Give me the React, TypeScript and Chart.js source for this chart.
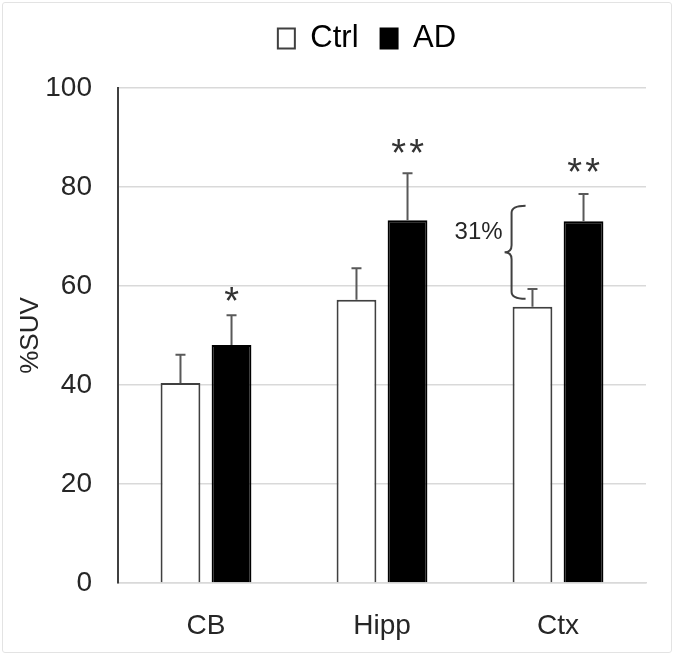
import React, { useEffect, useRef } from "react";
import { Chart, registerables } from "chart.js";

Chart.register(...registerables);

const categories = ["CB", "Hipp", "Ctx"];
const seriesNames = ["Ctrl", "AD"];
const ctrlValues = [40.4, 57.2, 55.8];
const adValues = [48.1, 73.3, 73.1];
const ctrlErrors = [5.7, 6.4, 3.6];
const adErrors = [6.0, 9.5, 5.5];
const starLabels = ["*", "**", "**"];
const starValues = [58.4, 88.2, 84.4];
const braceCategory = 2;
const braceRange = [57.4, 76.2];
const braceLabel = "31%";
const yTicks = [0, 20, 40, 60, 80, 100];

const FONT = "'Liberation Sans', Arial, sans-serif";
const LEGEND_SHIFT = 40;

const annotationPlugin = {
  id: "annotations",
  beforeInit(chart: any) {
    const legend = chart.legend;
    if (legend) {
      const origFit = legend.fit;
      legend.fit = function () {
        origFit.call(legend);
        legend.height += 24;
      };
    }
  },
  afterLayout(chart: any) {
    const legend = chart.legend;
    if (legend) {
      legend.left += LEGEND_SHIFT;
      legend.right += LEGEND_SHIFT;
    }
  },
  afterDatasetsDraw(chart: any) {
    const ctx = chart.ctx;
    const y = chart.scales.y;
    const errs = [ctrlErrors, adErrors];
    const vals = [ctrlValues, adValues];
    ctx.save();
    // error bars
    ctx.strokeStyle = "#595959";
    ctx.lineWidth = 2;
    [0, 1].forEach((di) => {
      const meta = chart.getDatasetMeta(di);
      meta.data.forEach((bar: any, i: number) => {
        const top = y.getPixelForValue(vals[di][i]);
        const et = y.getPixelForValue(vals[di][i] + errs[di][i]);
        ctx.beginPath();
        ctx.moveTo(bar.x, top);
        ctx.lineTo(bar.x, et);
        ctx.moveTo(bar.x - 5, et);
        ctx.lineTo(bar.x + 5, et);
        ctx.stroke();
      });
    });
    // stars
    const adMeta = chart.getDatasetMeta(1);
    ctx.fillStyle = "#333333";
    ctx.font = `38px ${FONT}`;
    ctx.textAlign = "center";
    ctx.textBaseline = "alphabetic";
    const m = ctx.measureText("*");
    const asc = m.actualBoundingBoxAscent;
    const desc = m.actualBoundingBoxDescent;
    starLabels.forEach((lab, i) => {
      const bar = adMeta.data[i];
      const cy = y.getPixelForValue(starValues[i]);
      const base = cy - (desc - asc) / 2;
      const n = lab.length;
      for (let k = 0; k < n; k++) {
        const cx = bar.x + (k - (n - 1) / 2) * 18;
        ctx.fillText("*", cx, base);
      }
    });
    // brace
    const ctrlBar = chart.getDatasetMeta(0).data[braceCategory];
    const x0 = ctrlBar.x - ctrlBar.width / 2 - 1;
    const top = y.getPixelForValue(braceRange[1]);
    const bot = y.getPixelForValue(braceRange[0]);
    const mid = (top + bot) / 2;
    ctx.strokeStyle = "#404040";
    ctx.lineWidth = 2;
    ctx.beginPath();
    ctx.moveTo(x0 + 14, top);
    ctx.quadraticCurveTo(x0, top, x0, top + 7);
    ctx.lineTo(x0, mid - 7);
    ctx.quadraticCurveTo(x0, mid, x0 - 7, mid);
    ctx.quadraticCurveTo(x0, mid, x0, mid + 7);
    ctx.lineTo(x0, bot - 7);
    ctx.quadraticCurveTo(x0, bot, x0 + 14, bot);
    ctx.stroke();
    ctx.font = `24px ${FONT}`;
    ctx.textAlign = "right";
    ctx.textBaseline = "middle";
    ctx.fillStyle = "#262626";
    ctx.fillText(braceLabel, x0 - 9, mid - 20);
    ctx.restore();
  },
};

export default function App() {
  const canvasRef = useRef<HTMLCanvasElement | null>(null);

  useEffect(() => {
    if (!canvasRef.current) return;
    Chart.defaults.font.family = FONT;
    const chart = new Chart(canvasRef.current, {
      type: "bar",
      data: {
        labels: categories,
        datasets: [
          {
            label: seriesNames[0],
            data: ctrlValues,
            backgroundColor: "#ffffff",
            borderColor: "#404040",
            borderWidth: 2,
          },
          {
            label: seriesNames[1],
            data: adValues,
            backgroundColor: "#000000",
            borderColor: "#000000",
            borderWidth: 2,
          },
        ],
      },
      options: {
        animation: false,
        responsive: true,
        maintainAspectRatio: false,
        devicePixelRatio: 1,
        layout: { padding: { top: 1, left: 8, right: 31, bottom: 0 } },
        datasets: { bar: { categoryPercentage: 0.58, barPercentage: 0.78 } },
        plugins: {
          legend: {
            position: "top",
            labels: {
              font: { size: 31, family: FONT },
              color: "#000000",
              boxWidth: 17,
              boxHeight: 20,
              padding: 22,
            },
          },
          tooltip: { enabled: false },
        },
        scales: {
          x: {
            grid: { display: false },
            border: { display: true, color: "#d9d9d9", width: 1.5 },
            ticks: { font: { size: 28, family: FONT }, color: "#262626", padding: 18 },
            afterFit(scale: any) {
              scale.height = 74;
            },
          },
          y: {
            min: 0,
            max: 100,
            afterBuildTicks(scale: any) {
              scale.ticks = yTicks.map((v) => ({ value: v }));
            },
            grid: { color: "#d9d9d9", lineWidth: 1.5, drawTicks: false },
            border: { display: true, color: "#404040", width: 2 },
            ticks: { font: { size: 28, family: FONT }, color: "#262626", padding: 26 },
            title: {
              display: true,
              text: "%SUV",
              font: { size: 26, family: FONT },
              color: "#262626",
              padding: { top: 7, bottom: 0 },
            },
            afterFit(scale: any) {
              scale.width = 110;
            },
          },
        },
      },
      plugins: [annotationPlugin],
    } as any);
    return () => chart.destroy();
  }, []);

  return (
    <div style={{ position: "fixed", left: 0, top: 0, width: 677, height: 657, background: "#fff" }}>
      <canvas ref={canvasRef} style={{ display: "block" }} />
      <div
        style={{
          position: "absolute",
          left: 2,
          top: 2,
          width: 668,
          height: 649,
          border: "1.5px solid #e3e3e3",
          borderRadius: 3,
          pointerEvents: "none",
        }}
      />
    </div>
  );
}
